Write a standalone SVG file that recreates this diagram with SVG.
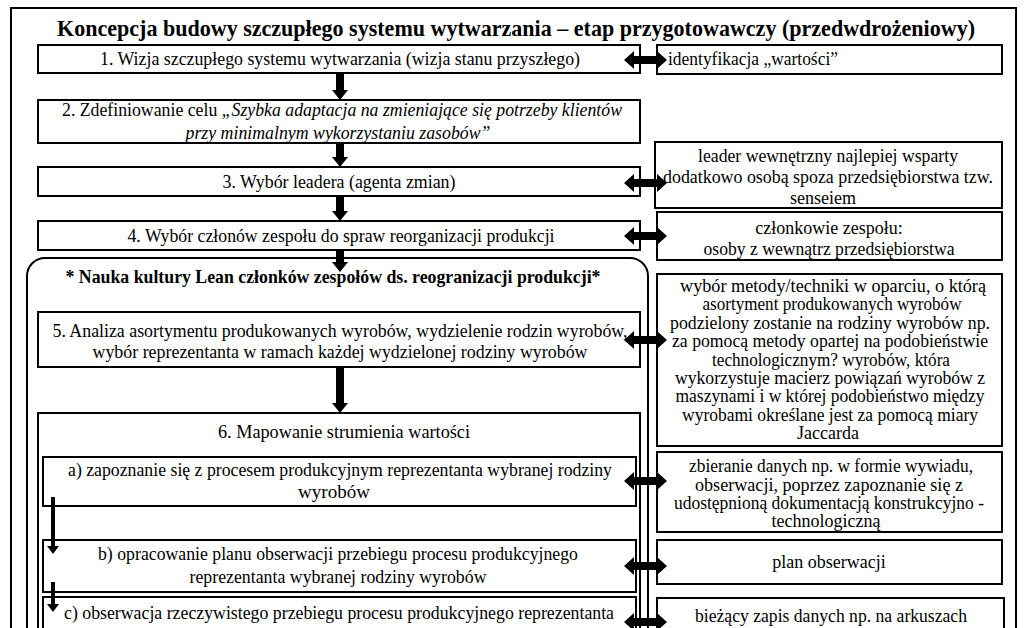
<svg xmlns="http://www.w3.org/2000/svg" width="1024" height="628" viewBox="0 0 1024 628" font-family="'Liberation Serif', serif">
<style>
text{font-family:'Liberation Serif',serif}
.bx{fill:#fff;stroke:#000;stroke-width:2}
.t{font-size:19px;fill:#000;text-anchor:middle}
.r{font-size:18px;fill:#000;text-anchor:middle}
.b{font-weight:bold}
.i{font-style:italic}
.ar{fill:#000}
</style>
<rect width="1024" height="628" fill="#fff"/>
<rect x="11" y="8" width="1005" height="660" fill="none" stroke="#000" stroke-width="2"/>
<text id="title" class="t b" x="516" y="36" style="font-size:23px" textLength="918" lengthAdjust="spacingAndGlyphs">Koncepcja budowy szczupłego systemu wytwarzania – etap przygotowawczy (przedwdrożeniowy)</text>

<g id="n1"><rect class="bx" x="38" y="45" width="602" height="28"/>
<text class="t" x="340" y="65" textLength="480" lengthAdjust="spacingAndGlyphs">1. Wizja szczupłego systemu wytwarzania (wizja stanu przyszłego)</text></g>
<g id="r1"><rect class="bx" x="657" y="45" width="345" height="29"/>
<text class="r" x="668" y="65" style="text-anchor:start" textLength="170" lengthAdjust="spacingAndGlyphs">identyfikacja „wartości”</text></g>

<g id="n2"><rect class="bx" x="38" y="100" width="602" height="43"/>
<text class="t" x="342" y="116" textLength="560" lengthAdjust="spacingAndGlyphs">2. Zdefiniowanie celu <tspan class="i">„Szybka adaptacja na zmieniające się potrzeby klientów</tspan></text>
<text class="t i" x="338" y="139" textLength="305" lengthAdjust="spacingAndGlyphs">przy minimalnym wykorzystaniu zasobów”</text></g>

<g id="n3"><rect class="bx" x="38" y="167" width="602" height="29"/>
<text class="t" x="339" y="188" textLength="233" lengthAdjust="spacingAndGlyphs">3. Wybór leadera (agenta zmian)</text></g>
<g id="r3"><rect class="bx" x="655" y="142" width="347" height="66"/>
<text class="r" x="828" y="162" textLength="260" lengthAdjust="spacingAndGlyphs">leader wewnętrzny najlepiej wsparty</text>
<text class="r" x="828" y="183" textLength="330" lengthAdjust="spacingAndGlyphs">dodatkowo osobą spoza przedsiębiorstwa tzw.</text>
<text class="r" x="823" y="204">senseiem</text></g>

<g id="n4"><rect class="bx" x="38" y="221" width="602" height="29"/>
<text class="t" x="341" y="242" textLength="427" lengthAdjust="spacingAndGlyphs">4. Wybór członów zespołu do spraw reorganizacji produkcji</text></g>
<g id="r4"><rect class="bx" x="657" y="212" width="345" height="48"/>
<text class="r" x="829" y="234">członkowie zespołu:</text>
<text class="r" x="829" y="255" textLength="251" lengthAdjust="spacingAndGlyphs">osoby z wewnątrz przedsiębiorstwa</text></g>

<g id="lean"><rect class="bx" x="27" y="258" width="621" height="420" rx="18" ry="18"/>
<text class="t b" x="333" y="283" textLength="535" lengthAdjust="spacingAndGlyphs">* Nauka kultury Lean członków zespołów ds. reogranizacji produkcji*</text></g>

<g id="n5"><rect class="bx" x="38" y="312" width="602" height="55"/>
<text class="t" x="340" y="337" textLength="575" lengthAdjust="spacingAndGlyphs">5. Analiza asortymentu produkowanych wyrobów, wydzielenie rodzin wyrobów,</text>
<text class="t" x="340" y="358" textLength="495" lengthAdjust="spacingAndGlyphs">wybór reprezentanta w ramach każdej wydzielonej rodziny wyrobów</text></g>
<g id="r5"><rect class="bx" x="657" y="274" width="345" height="172"/>
<text class="r" x="833" y="292" textLength="306" lengthAdjust="spacingAndGlyphs">wybór metody/techniki w oparciu, o którą</text>
<text class="r" x="832" y="310.4" textLength="259" lengthAdjust="spacingAndGlyphs">asortyment produkowanych wyrobów</text>
<text class="r" x="830" y="328.8" textLength="320" lengthAdjust="spacingAndGlyphs">podzielony zostanie na rodziny wyrobów np.</text>
<text class="r" x="830" y="347.2" textLength="316" lengthAdjust="spacingAndGlyphs">za pomocą metody opartej na podobieństwie</text>
<text class="r" x="831" y="365.6" textLength="238" lengthAdjust="spacingAndGlyphs">technologicznym? wyrobów, która</text>
<text class="r" x="830" y="384" textLength="310" lengthAdjust="spacingAndGlyphs">wykorzystuje macierz powiązań wyrobów z</text>
<text class="r" x="830" y="402.4" textLength="309" lengthAdjust="spacingAndGlyphs">maszynami i w której podobieństwo między</text>
<text class="r" x="830" y="420.8" textLength="296" lengthAdjust="spacingAndGlyphs">wyrobami określane jest za pomocą miary</text>
<text class="r" x="828" y="439.2">Jaccarda</text></g>

<g id="n6"><rect class="bx" x="38" y="413" width="602" height="260"/>
<text class="t" x="344" y="438" textLength="252" lengthAdjust="spacingAndGlyphs">6.  Mapowanie strumienia wartości</text></g>

<g id="na"><rect class="bx" x="43" y="457" width="593" height="49"/>
<text class="t" x="340" y="476" textLength="544" lengthAdjust="spacingAndGlyphs">a) zapoznanie się z procesem produkcyjnym reprezentanta wybranej rodziny</text>
<text class="t" x="334" y="498" textLength="72" lengthAdjust="spacingAndGlyphs">wyrobów</text></g>
<g id="ra"><rect class="bx" x="657" y="452" width="345" height="80"/>
<text class="r" x="831" y="472" textLength="284" lengthAdjust="spacingAndGlyphs">zbieranie danych np. w formie wywiadu,</text>
<text class="r" x="829" y="491" textLength="268" lengthAdjust="spacingAndGlyphs">obserwacji, poprzez zapoznanie się z</text>
<text class="r" x="829" y="509" textLength="310" lengthAdjust="spacingAndGlyphs">udostępnioną dokumentacją konstrukcyjno -</text>
<text class="r" x="826" y="527">technologiczną</text></g>

<g id="nb"><rect class="bx" x="43" y="540" width="593" height="52"/>
<text class="t" x="338" y="560" textLength="480" lengthAdjust="spacingAndGlyphs">b) opracowanie planu obserwacji przebiegu procesu produkcyjnego</text>
<text class="t" x="338" y="583" textLength="297" lengthAdjust="spacingAndGlyphs">reprezentanta wybranej rodziny wyrobów</text></g>
<g id="rb"><rect class="bx" x="657" y="540" width="345" height="44"/>
<text class="r" x="829" y="568">plan obserwacji</text></g>

<g id="nc"><rect class="bx" x="43" y="597" width="593" height="60"/>
<text class="t" x="339" y="619" textLength="550" lengthAdjust="spacingAndGlyphs">c) obserwacja rzeczywistego przebiegu procesu produkcyjnego reprezentanta</text></g>
<g id="rc"><rect class="bx" x="657" y="598" width="347" height="60"/>
<text class="r" x="831" y="622" textLength="272" lengthAdjust="spacingAndGlyphs">bieżący zapis danych np. na arkuszach</text></g>

<g id="connectors" class="ar">
<polygon points="336,73 344,73 344,90 348,90 340,100 332,90 336,90"/>
<polygon points="336,143 344,143 344,157 348,157 340,167 332,157 336,157"/>
<polygon points="336,196 344,196 344,211 348,211 340,221 332,211 336,211"/>
<polygon points="336,250 344,250 344,262 348,262 340,272 332,262 336,262"/>
<polygon points="336,367 344,367 344,403 348,403 340,413 332,403 336,403"/>
<polygon points="51,497 55,497 55,546 59,546 53,554 47,546 51,546"/>
<polygon points="51,582 55,582 55,604 59,604 53,612 47,604 51,604"/>
<polygon points="624,60 634,51 634,56 657,56 657,51 667,60 657,69 657,64 634,64 634,69"/>
<polygon points="624,183 634,174 634,179 657,179 657,174 667,183 657,192 657,187 634,187 634,192"/>
<polygon points="624,236 634,227 634,232 657,232 657,227 667,236 657,245 657,240 634,240 634,245"/>
<polygon points="624,340 634,331 634,336 657,336 657,331 667,340 657,349 657,344 634,344 634,349"/>
<polygon points="624,481 634,472 634,477 657,477 657,472 667,481 657,490 657,485 634,485 634,490"/>
<polygon points="624,566 634,557 634,562 657,562 657,557 667,566 657,575 657,570 634,570 634,575"/>
<polygon points="624,622 634,613 634,618 657,618 657,613 667,622 657,631 657,626 634,626 634,631"/>
</g>
</svg>
